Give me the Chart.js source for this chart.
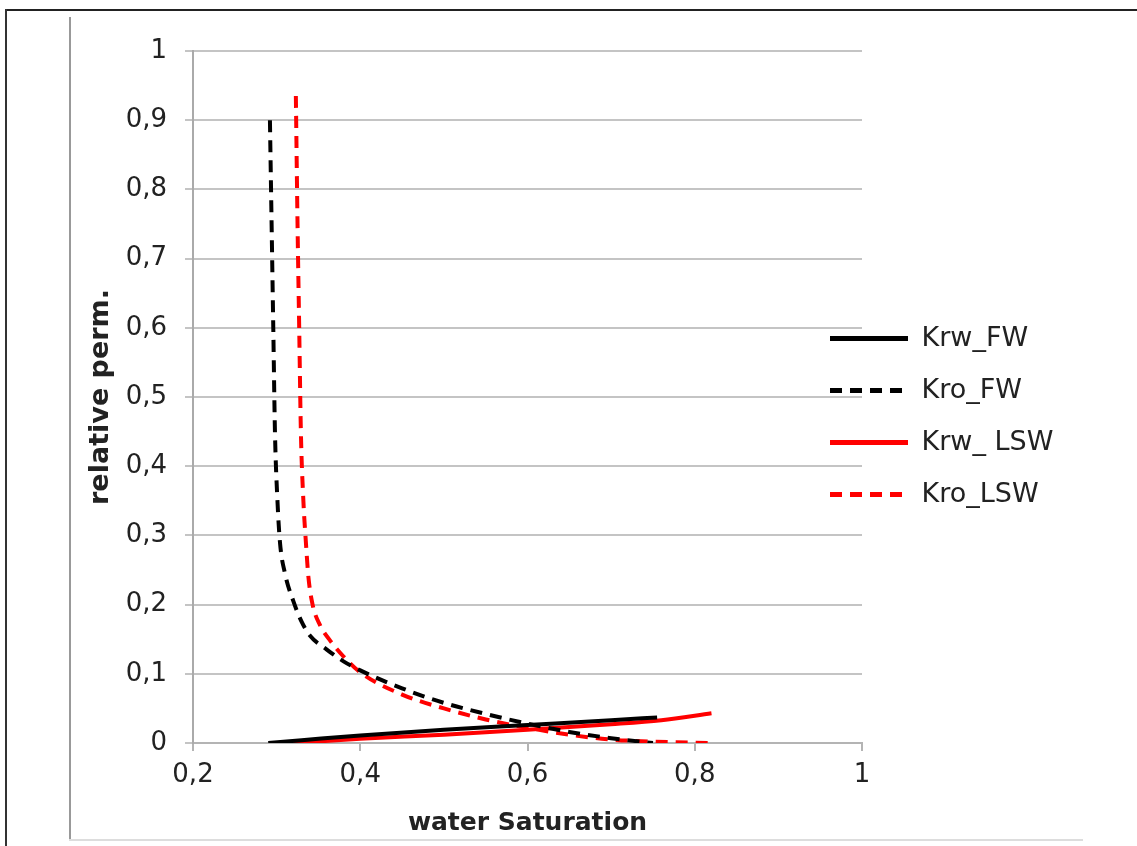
<!DOCTYPE html>
<html>
<head>
<meta charset="UTF-8">
<title>relative perm.</title>
<script src="https://cdn.jsdelivr.net/npm/chart.js@4/dist/chart.umd.min.js"></script>
<style>
  body { margin: 0; background: #fff; }
  .wrap { position: relative; width: 1137px; height: 846px; overflow: hidden; }
  .ln { position: absolute; }
  canvas { position: absolute; left: 0; top: 0; }
</style>
</head>
<body>
<div class="wrap">
  <div class="ln" style="left:6px;top:9px;width:1131px;height:2px;background:#222"></div>
  <div class="ln" style="left:5px;top:9px;width:2px;height:837px;background:#333"></div>
  <div class="ln" style="left:69px;top:17px;width:2px;height:824px;background:#999"></div>
  <div class="ln" style="left:69px;top:839px;width:1014px;height:2px;background:#ddd"></div>
  <canvas id="grafico" width="1137" height="846"></canvas>
</div>
<script>
// series
const krwFwX = [0.29, 0.33, 0.40, 0.50, 0.60, 0.70, 0.755];
const krwFwY = [0.000, 0.004, 0.011, 0.019, 0.026, 0.033, 0.037];

const kroFwX = [0.292, 0.294, 0.296, 0.298, 0.301, 0.304, 0.31, 0.32, 0.33, 0.34, 0.36, 0.38, 0.40, 0.45, 0.50, 0.55, 0.60, 0.65, 0.70, 0.75];
const kroFwY = [0.90, 0.75, 0.60, 0.45, 0.35, 0.29, 0.245, 0.205, 0.175, 0.155, 0.135, 0.118, 0.105, 0.079, 0.058, 0.042, 0.028, 0.016, 0.007, 0.000];

const krwLswX = [0.32, 0.40, 0.50, 0.60, 0.70, 0.76, 0.82];
const krwLswY = [0.000, 0.006, 0.012, 0.019, 0.027, 0.033, 0.043];

const kroLswX = [0.323, 0.325, 0.327, 0.329, 0.332, 0.335, 0.338, 0.343, 0.352, 0.364, 0.38, 0.40, 0.45, 0.50, 0.55, 0.60, 0.65, 0.70, 0.75, 0.82];
const kroLswY = [0.935, 0.75, 0.60, 0.45, 0.35, 0.29, 0.24, 0.20, 0.17, 0.148, 0.125, 0.102, 0.07, 0.05, 0.034, 0.022, 0.012, 0.005, 0.002, 0.000];

const nomes = ['Krw_FW', 'Kro_FW', 'Krw_ LSW', 'Kro_LSW'];
const xTitulo = 'water Saturation';
const yTitulo = 'relative perm.';

function pontos(xs, ys) {
  return xs.map((x, i) => ({ x: x, y: ys[i] }));
}

function virgula(v) {
  return String(Math.round(v * 10) / 10).replace('.', ',');
}

// legend drawn by Chart.js, but placed over the right part of the plot like the original
const legendaPos = {
  id: 'legendaPos',
  beforeLayout(chart) {
    const lg = chart.legend;
    if (lg && !lg._ajustada) {
      const fitOrig = lg.fit;
      lg.fit = function () {
        fitOrig.call(this);
        this.width = 0;
      };
      lg._ajustada = true;
    }
  },
  afterLayout(chart) {
    const lg = chart.legend;
    lg.left = 805;
    lg.right = 1137;
    lg.width = lg.right - lg.left;
    lg.top = 300;
    lg.bottom = 840;
    lg.height = lg.bottom - lg.top;
  }
};

const fonte = 'DejaVu Sans, Verdana, sans-serif';
const linhaPadrao = { borderWidth: 4, pointRadius: 0, showLine: true, cubicInterpolationMode: 'monotone', fill: false };

const data = {
  datasets: [
    Object.assign({ label: nomes[0], data: pontos(krwFwX, krwFwY), borderColor: '#000000', backgroundColor: '#000000' }, linhaPadrao),
    Object.assign({ label: nomes[1], data: pontos(kroFwX, kroFwY), borderColor: '#000000', backgroundColor: '#000000', borderDash: [12, 8] }, linhaPadrao),
    Object.assign({ label: nomes[2], data: pontos(krwLswX, krwLswY), borderColor: '#ff0000', backgroundColor: '#ff0000' }, linhaPadrao),
    Object.assign({ label: nomes[3], data: pontos(kroLswX, kroLswY), borderColor: '#ff0000', backgroundColor: '#ff0000', borderDash: [12, 8] }, linhaPadrao)
  ]
};

const config = {
  type: 'scatter',
  data: data,
  plugins: [legendaPos],
  options: {
    responsive: false,
    animation: false,
    layout: { padding: { left: 70, top: 51, right: 275, bottom: 8 } },
    plugins: {
      tooltip: { enabled: false },
      legend: {
        position: 'right',
        align: 'start',
        labels: {
          usePointStyle: true,
          pointStyle: 'line',
          pointStyleWidth: 78,
          padding: 25,
          color: '#222',
          font: { family: fonte, size: 27 },
          generateLabels(chart) {
            const itens = Chart.defaults.plugins.legend.labels.generateLabels(chart);
            itens.forEach((it) => {
              const ds = chart.data.datasets[it.datasetIndex];
              it.lineDash = ds.borderDash || [];
              it.lineWidth = 5;
              it.strokeStyle = ds.borderColor;
            });
            return itens;
          }
        }
      }
    },
    scales: {
      x: {
        type: 'linear',
        min: 0.2,
        max: 1,
        afterFit: (s) => { s.height = 846 - 8 - 743; },
        ticks: { stepSize: 0.2, padding: 9, color: '#222', font: { family: fonte, size: 26 }, callback: virgula },
        grid: { drawOnChartArea: false, tickLength: 8, color: '#b4b4b4', lineWidth: 2 },
        border: { color: '#b4b4b4', width: 2 },
        title: { display: true, text: xTitulo, color: '#222', padding: { top: 0, bottom: 0 }, font: { family: fonte, size: 25, weight: 'bold' } }
      },
      y: {
        min: 0,
        max: 1,
        afterFit: (s) => { s.width = 193 - 70; },
        ticks: { stepSize: 0.1, padding: 18, color: '#222', font: { family: fonte, size: 26 }, callback: virgula },
        grid: { tickLength: 8, color: '#c4c4c4', lineWidth: 2 },
        border: { color: '#aaaaaa', width: 2 },
        title: { display: true, text: yTitulo, color: '#222', padding: { top: 15, bottom: 0 }, font: { family: fonte, size: 27, weight: 'bold' } }
      }
    }
  }
};

const grafico = new Chart(document.getElementById('grafico'), config);
</script>
</body>
</html>
